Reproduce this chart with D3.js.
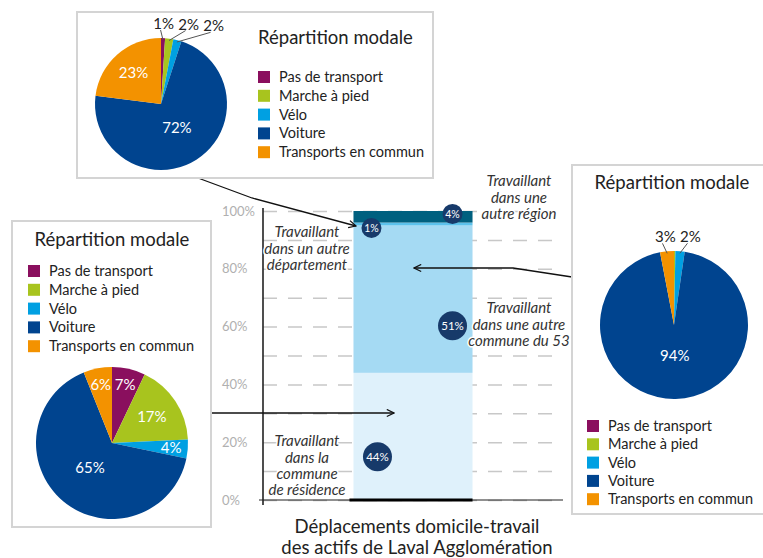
<!DOCTYPE html>
<html>
<head>
<meta charset="utf-8">
<script src="https://cdn.jsdelivr.net/npm/d3@7"></script>
<style>
  body { margin: 0; background: #fff; }
  svg { font-family: Lato, "Noto Sans", sans-serif; }
</style>
</head>
<body>
<div class="chart"></div>
<script>
// modes de transport (legende commune aux 3 camemberts)
const modes = ["Pas de transport", "Marche à pied", "Vélo", "Voiture", "Transports en commun"];
const modeColors = ["#8a0f5e", "#a8c41e", "#00a0e2", "#00448f", "#f39200"];

// repartition modale (%) par destination
const pieAutreDept = [1, 2, 2, 72, 23];
const pieMemeCommune = [7, 17, 4, 65, 6];
const pieAutreCommune = [0, 0.3, 2, 94, 3];

// barre empilee : lieu de travail
const zones = ["Travaillant dans la commune de résidence", "Travaillant dans une autre commune du 53",
               "Travaillant dans un autre département", "Travaillant dans une autre région"];
const zoneValues = [44, 51, 1, 4];
const zoneColors = ["#dff1fb", "#a5daf3", "#5cc2ec", "#00607f"];
const yTicks = [0, 10, 20, 30, 40, 50, 60, 70, 80, 90, 100];

const W = 763, H = 558;
const svg = d3.select(".chart").append("svg")
    .attr("width", W)
    .attr("height", H);

const defs = svg.append("defs");
defs.append("marker")
    .attr("id", "arrow")
    .attr("viewBox", "0 0 10 10")
    .attr("refX", 9).attr("refY", 5)
    .attr("markerWidth", 9).attr("markerHeight", 9)
    .attr("markerUnits", "userSpaceOnUse")
    .attr("orient", "auto")
  .append("path")
    .attr("d", "M1,1 L9,5 L1,9")
    .attr("fill", "none")
    .attr("stroke", "#111")
    .attr("stroke-width", 1.3);

// ---------- barre empilee ----------
const y = d3.scaleLinear().domain([0, 100]).range([500, 211]);
const x = d3.scaleBand().domain(["Laval Agglomération"]).range([263, 563])
    .paddingInner(0).paddingOuter(0.76);

const yAxis = d3.axisLeft(y)
    .tickValues(yTicks)
    .tickSize(-300)
    .tickFormat(d => d % 20 === 0 ? d + "%" : "");

const gy = svg.append("g")
    .attr("transform", "translate(263,0)")
    .call(yAxis);
gy.select(".domain").remove();
gy.selectAll(".tick line")
    .attr("stroke", "#c8c8c8")
    .attr("stroke-width", 1.5)
    .attr("stroke-dasharray", "14,11");
gy.selectAll(".tick text")
    .attr("x", -41)
    .attr("text-anchor", "start")
    .attr("fill", "#b0b0b0")
    .attr("font-size", 13)
    .attr("font-family", "Lato, sans-serif");

const stackData = [Object.fromEntries(zones.map((z, i) => [z, zoneValues[i]]))];
const series = d3.stack().keys(zones)(stackData);

svg.append("g")
  .selectAll("rect")
  .data(series)
  .join("rect")
    .attr("x", x("Laval Agglomération"))
    .attr("width", x.bandwidth())
    .attr("y", d => y(d[0][1]))
    .attr("height", d => y(d[0][0]) - y(d[0][1]))
    .attr("fill", (d, i) => zoneColors[i]);

// axes
svg.append("line")
    .attr("x1", 263).attr("x2", 263)
    .attr("y1", y(100) - 3).attr("y2", y(0) + 5)
    .attr("stroke", "#222").attr("stroke-width", 1.6);
svg.append("line")
    .attr("x1", 259).attr("x2", 563)
    .attr("y1", y(0)).attr("y2", y(0))
    .attr("stroke", "#222").attr("stroke-width", 1.2);
svg.append("line")
    .attr("x1", x("Laval Agglomération") - 4).attr("x2", x("Laval Agglomération") + x.bandwidth())
    .attr("y1", y(0)).attr("y2", y(0))
    .attr("stroke", "#000").attr("stroke-width", 3);

// pastilles de valeur
const bubbleLayout = [{side: "left", t: 0.34}, {side: "right", t: 0.32}, {side: "left", t: -0.9}, {side: "right", t: 0.75}];
const bubbles = svg.append("g")
  .selectAll("g")
  .data(series)
  .join("g")
    .attr("transform", (d, i) => {
        const lay = bubbleLayout[i];
        const bx = lay.side === "left" ? x("Laval Agglomération") + (d.key.includes("département") ? 18 : 24)
                                       : x("Laval Agglomération") + x.bandwidth() - 20;
        const by = y(d[0][0] + (d[0][1] - d[0][0]) * lay.t);
        return `translate(${bx},${by})`;
    });
bubbles.append("circle")
    .attr("r", d => (d[0][1] - d[0][0]) >= 10 ? 14.5 : 10)
    .attr("fill", "#173a6a");
bubbles.append("text")
    .attr("text-anchor", "middle")
    .attr("dy", "0.35em")
    .attr("fill", "#fff")
    .attr("font-size", d => (d[0][1] - d[0][0]) >= 10 ? 11.5 : 10.5)
    .text(d => (d[0][1] - d[0][0]) + "%");

// libelles des zones (italique)
const zoneLines = [
    ["Travaillant", "dans la", "commune", "de résidence"],
    ["Travaillant", "dans une autre", "commune du 53"],
    ["Travaillant", "dans un autre", "département"],
    ["Travaillant", "dans une", "autre région"]
];
const zoneLabelPos = [[307, 441], [519, 308], [307, 232], [519, 181]];
zoneLines.forEach((lines, i) => {
    const t = svg.append("text")
        .attr("font-style", "italic")
        .attr("font-size", 15)
        .attr("fill", "#333")
        .attr("text-anchor", "middle")
        .attr("stroke", "#fff")
        .attr("stroke-width", 3)
        .attr("paint-order", "stroke");
    lines.forEach((l, j) => {
        t.append("tspan")
            .attr("x", zoneLabelPos[i][0])
            .attr("y", zoneLabelPos[i][1] + j * 16.4)
            .attr("dy", "0.35em")
            .text(l);
    });
});

// titre du graphique
svg.append("text")
    .attr("text-anchor", "middle")
    .attr("font-size", 18.5)
    .attr("fill", "#222")
    .selectAll("tspan")
    .data(["Déplacements domicile-travail", "des actifs de Laval Agglomération"])
    .join("tspan")
    .attr("x", 417)
    .attr("y", (d, i) => 533 + i * 20.5)
    .text(d => d);

// ---------- fleches ----------
const arrowLine = d3.line();
[
    [[198, 178], [252, 198], [356, 226]],
    [[572, 277], [513, 268], [414, 268]],
    [[212, 413], [394, 413]]
].forEach(pts => {
    svg.append("path")
        .attr("d", arrowLine(pts))
        .attr("fill", "none")
        .attr("stroke", "#111")
        .attr("stroke-width", 1.3)
        .attr("marker-end", "url(#arrow)");
});

// ---------- camemberts ----------
const pie = d3.pie().sort(null).value(d => d);

function drawPanel(cfg) {
    const g = svg.append("g");
    g.append("rect")
        .attr("x", cfg.box[0]).attr("y", cfg.box[1])
        .attr("width", cfg.box[2] - cfg.box[0])
        .attr("height", cfg.box[3] - cfg.box[1])
        .attr("fill", "#fff")
        .attr("stroke", "#d4d4d4")
        .attr("stroke-width", 2);

    g.append("text")
        .attr("x", cfg.title[0]).attr("y", cfg.title[1])
        .attr("text-anchor", cfg.titleAnchor)
        .attr("font-size", 18.5)
        .attr("fill", "#222")
        .text("Répartition modale");

    const leg = g.append("g")
      .selectAll("g")
      .data(modes)
      .join("g")
        .attr("transform", (d, i) => `translate(${cfg.legend[0]},${cfg.legend[1] + i * cfg.legend[2]})`);
    leg.append("rect")
        .attr("y", -6).attr("width", 12).attr("height", 12)
        .attr("fill", (d, i) => modeColors[i]);
    leg.append("text")
        .attr("x", 21).attr("dy", "0.35em")
        .attr("font-size", 14.5)
        .attr("fill", "#222")
        .text(d => d);

    const arcs = pie(cfg.values);
    const r = cfg.r;
    const arc = d3.arc().innerRadius(0).outerRadius(r);
    const pg = g.append("g").attr("transform", `translate(${cfg.c[0]},${cfg.c[1]})`);
    pg.selectAll("path")
      .data(arcs)
      .join("path")
        .attr("d", arc)
        .attr("fill", (d, i) => modeColors[i]);

    const mid = d => {
        const a = (d.startAngle + d.endAngle) / 2;
        return a > Math.PI ? a - 2 * Math.PI : a;
    };
    const shown = arcs.filter(d => d.value >= 1);

    // etiquettes interieures
    const inside = shown.filter(d => !(cfg.outside && d.value < 5));
    pg.selectAll("text.in")
      .data(inside)
      .join("text")
        .attr("class", "in")
        .attr("text-anchor", "middle")
        .attr("dy", "0.35em")
        .attr("font-size", 15)
        .attr("fill", "#fff")
        .attr("x", d => {
            const k = d.value >= 50 ? 0.45 : d.value >= 10 ? 0.63 : 0.78;
            return Math.sin(mid(d)) * r * k;
        })
        .attr("y", d => {
            const k = d.value >= 50 ? 0.42 : d.value >= 10 ? 0.63 : 0.78;
            return -Math.cos(mid(d)) * r * k;
        })
        .text(d => d.value + "%");

    // etiquettes exterieures avec traits de rappel
    if (cfg.outside) {
        const outs = shown.filter(d => d.value < 5).sort((a, b) => mid(a) - mid(b));
        let prevX = -Infinity;
        outs.forEach(d => {
            const a = mid(d);
            let lx = Math.sin(a) * (r + 16);
            const ly = -Math.cos(a) * (r + 9);
            lx = Math.max(lx, prevX + 25);
            prevX = lx;
            pg.append("line")
                .attr("x1", Math.sin(a) * (r - 2)).attr("y1", -Math.cos(a) * (r - 2))
                .attr("x2", lx - 3).attr("y2", ly + 1)
                .attr("stroke", "#555").attr("stroke-width", 1);
            pg.append("text")
                .attr("x", lx).attr("y", ly)
                .attr("text-anchor", "middle")
                .attr("font-size", 15)
                .attr("fill", "#222")
                .text(d.value + "%");
        });
    }
}

drawPanel({box: [77, 12, 433, 178], title: [258, 44], titleAnchor: "start",
           legend: [258, 77, 18.8], c: [161, 104], r: 66, values: pieAutreDept, outside: true});
drawPanel({box: [12, 221, 211, 527], title: [112, 246], titleAnchor: "middle",
           legend: [28, 271, 18.8], c: [112, 443], r: 76, values: pieMemeCommune, outside: false});
drawPanel({box: [572, 165, 775, 514], title: [672, 189], titleAnchor: "middle",
           legend: [587, 426, 18.3], c: [674, 325], r: 74, values: pieAutreCommune, outside: true});
</script>
</body>
</html>
